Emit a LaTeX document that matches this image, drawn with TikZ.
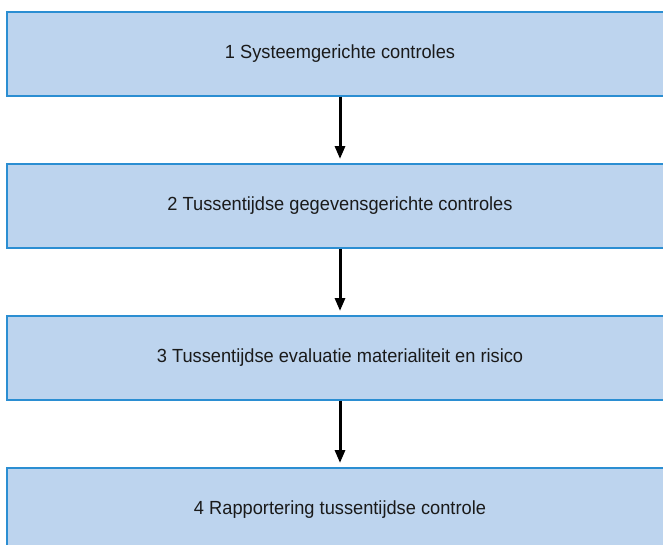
\documentclass[tikz,border=0pt]{standalone}
\usepackage{fontspec}
\setmainfont{Liberation Sans}[FakeStretch=0.96]
\usetikzlibrary{arrows.meta}
\definecolor{boxfill}{HTML}{BDD4EE}
\definecolor{boxline}{HTML}{2B8ED2}
\definecolor{txt}{HTML}{1A1A1A}
\tikzset{
  stagebox/.style={draw=boxline, line width=2pt, fill=boxfill, minimum width=666pt, minimum height=84pt, inner sep=0pt, text=txt, font=\fontsize{19}{22}\selectfont},
  flowarrow/.style={line width=3pt, -{Triangle[width=10pt,length=13pt]}, shorten >=4pt}
}
\begin{document}
\begin{tikzpicture}[x=1pt,y=-1pt]
\useasboundingbox (0,0) rectangle (663,544);
\node[stagebox] (b1) at (340,53.5) {1 Systeemgerichte controles};
\node[stagebox] (b2) at (340,206) {2 Tussentijdse gegevensgerichte controles};
\node[stagebox] (b3) at (340,358) {3 Tussentijdse evaluatie materialiteit en risico};
\node[stagebox] (b4) at (340,510) {4 Rapportering tussentijdse controle};
\draw[flowarrow] (b1.south) -- (b2.north);
\draw[flowarrow] (b2.south) -- (b3.north);
\draw[flowarrow] (b3.south) -- (b4.north);
\end{tikzpicture}
\end{document}
